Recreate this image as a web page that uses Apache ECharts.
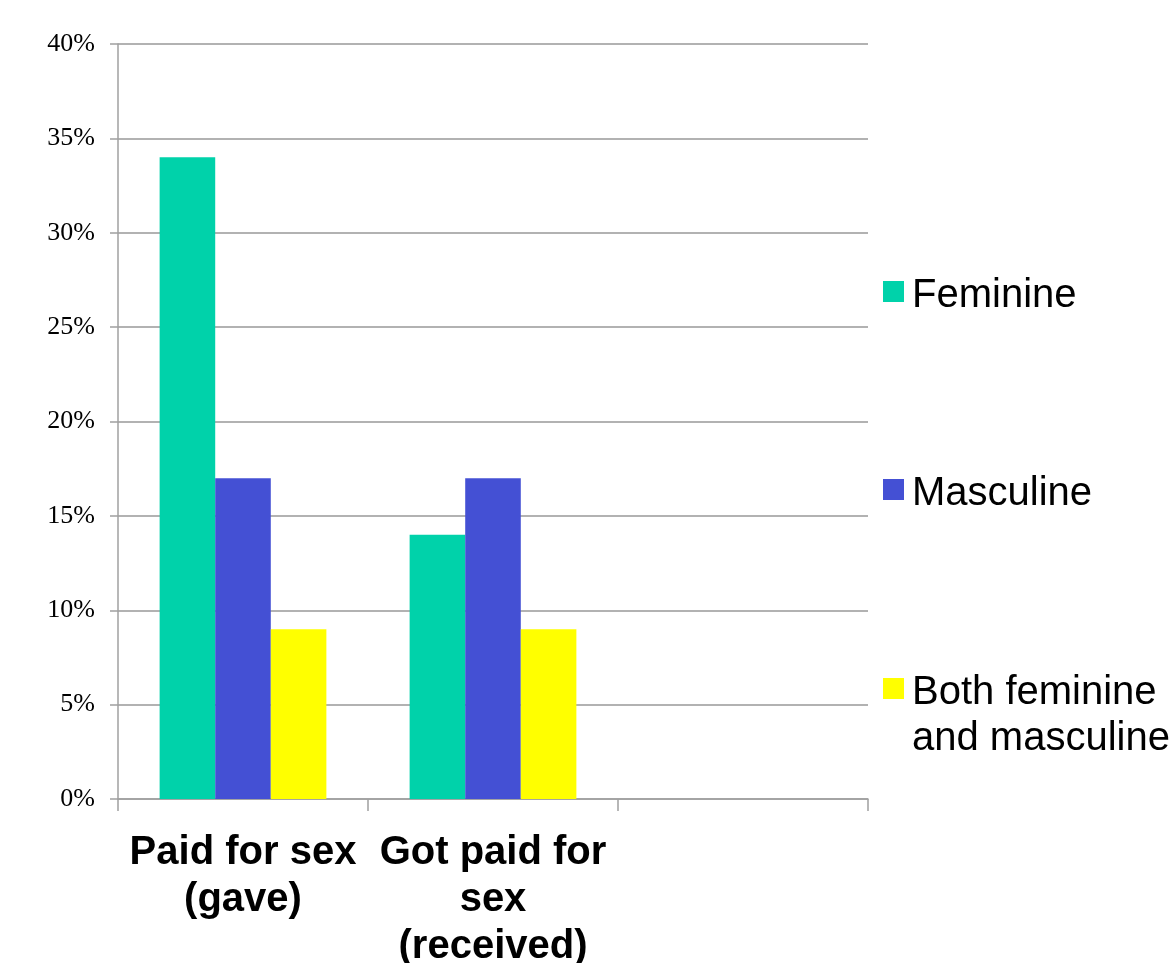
<!DOCTYPE html>
<html>
<head>
<meta charset="utf-8">
<script src="https://cdn.jsdelivr.net/npm/echarts@6/dist/echarts.min.js"></script>
<style>
html,body{margin:0;padding:0;background:#fff;}
#chart{width:1174px;height:963px;}
</style>
</head>
<body>
<div id="chart"></div>
<script>
const categories = ['Paid for sex\n(gave)', 'Got paid for\nsex\n(received)', ''];
const seriesNames = ['Feminine', 'Masculine', 'Both feminine and masculine'];
const feminine = [34, 14, null];
const masculine = [17, 17, null];
const both = [9, 9, null];
const yTicks = { min: 0, max: 40, interval: 5 };
const colors = ['#00D2AA', '#4450D4', '#FFFF00'];

const chart = echarts.init(document.getElementById('chart'), null, { renderer: 'canvas' });

function bar(name, data, color) {
  return {
    name: name,
    type: 'bar',
    data: data,
    barGap: '0%',
    barCategoryGap: '33.3%',
    itemStyle: { color: color },
    animation: false
  };
}

const legendText = {
  fontFamily: 'Liberation Sans, Arial, sans-serif',
  fontSize: 40,
  color: '#000',
  lineHeight: 46
};
// square icon in the upper part of the item box, so it lines up with the first text line
const iconOneLine = 'path://M0,0L24,0Z M0,8H21V29H0Z M0,46L0.01,46Z';
const iconTwoLines = 'path://M0,0L24,0Z M0,8H21V29H0Z M0,92L0.01,92Z';

chart.setOption({
  backgroundColor: '#ffffff',
  animation: false,
  grid: { left: 118, right: 306, top: 44, bottom: 164, containLabel: false, outerBoundsMode: 'none' },
  xAxis: {
    type: 'category',
    data: categories,
    axisLine: { lineStyle: { color: '#a0a0a0', width: 1.5 } },
    axisTick: { show: true, length: 12, lineStyle: { color: '#a0a0a0', width: 1.5 } },
    axisLabel: {
      interval: 0,
      margin: 30,
      fontFamily: 'Liberation Sans, Arial, sans-serif',
      fontWeight: 'bold',
      fontSize: 40,
      lineHeight: 47,
      color: '#000'
    }
  },
  yAxis: {
    type: 'value',
    min: yTicks.min,
    max: yTicks.max,
    interval: yTicks.interval,
    axisLine: { show: true, lineStyle: { color: '#a0a0a0', width: 1.5 } },
    axisTick: { show: true, length: 8, lineStyle: { color: '#a0a0a0', width: 1.5 } },
    splitLine: { show: true, lineStyle: { color: '#999999', width: 1.5 } },
    axisLabel: {
      margin: 23,
      formatter: '{value}%',
      fontFamily: 'Liberation Serif, Times New Roman, serif',
      fontSize: 26,
      color: '#000'
    }
  },
  legend: [
    {
      data: [seriesNames[0]], orient: 'vertical', left: 883, top: 273, padding: 0,
      icon: iconOneLine, itemWidth: 24, itemHeight: 46, textStyle: legendText
    },
    {
      data: [seriesNames[1]], orient: 'vertical', left: 883, top: 471, padding: 0,
      icon: iconOneLine, itemWidth: 24, itemHeight: 46, textStyle: legendText
    },
    {
      data: [seriesNames[2]], orient: 'vertical', left: 883, top: 670, padding: 0,
      icon: iconTwoLines, itemWidth: 24, itemHeight: 92,
      formatter: function () { return 'Both feminine\nand masculine'; },
      textStyle: legendText
    }
  ],
  series: [
    bar(seriesNames[0], feminine, colors[0]),
    bar(seriesNames[1], masculine, colors[1]),
    bar(seriesNames[2], both, colors[2])
  ]
});
</script>
</body>
</html>
